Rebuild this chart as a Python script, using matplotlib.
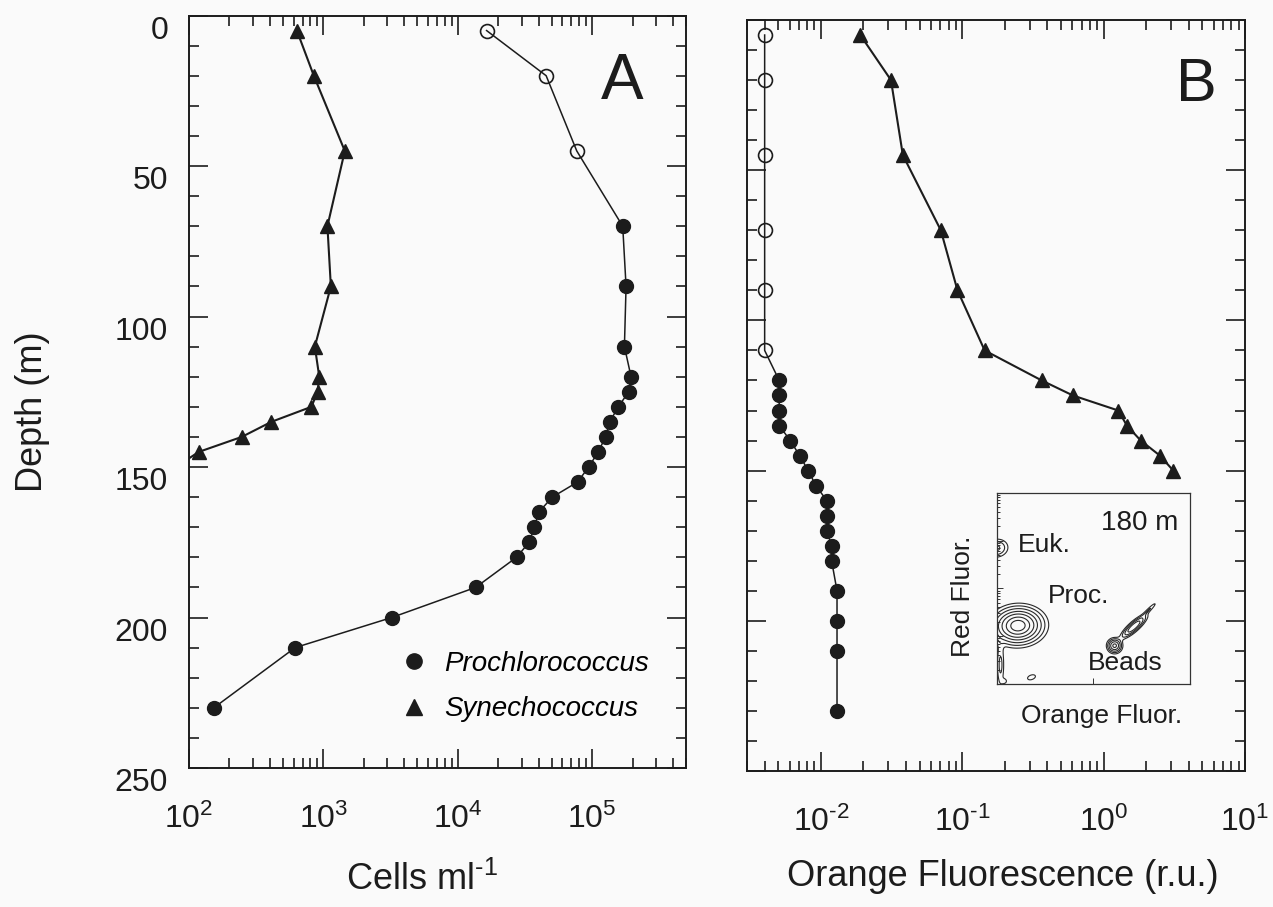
import numpy as np
import matplotlib
matplotlib.use("Agg")
import matplotlib.pyplot as plt
from matplotlib.lines import Line2D
from matplotlib.ticker import LogLocator, NullFormatter, MultipleLocator, FuncFormatter

plt.rcParams['font.family'] = ['Liberation Sans', 'DejaVu Sans']
plt.rcParams['mathtext.fontset'] = 'custom'
plt.rcParams['mathtext.rm'] = 'Liberation Sans'
plt.rcParams['mathtext.it'] = 'Liberation Sans:italic'
plt.rcParams['axes.unicode_minus'] = False

INK = '#1c1c1c'
BG = '#fafafa'

# ---- Panel A: cell abundance (cells per ml) ----
proc_a_open_depth = [5, 20, 45]
proc_a_open_cells = [16400, 45500, 76900]
proc_a_depth = [70, 90, 110, 120, 125, 130, 135, 140, 145, 150, 155, 160,
                165, 170, 175, 180, 190, 200, 210, 230]
proc_a_cells = [169000, 179000, 174000, 195000, 187000, 157000, 135000, 126000,
                111000, 94400, 77900, 50600, 40100, 37200, 34000, 27400,
                13600, 3230, 617, 153]
syn_a_depth = [5, 20, 45, 70, 90, 110, 120, 125, 130, 135, 140, 145, 150]
syn_a_cells = [635, 849, 1444, 1072, 1137, 864, 932, 906, 815, 410, 247, 118, 80]

# ---- Panel B: orange fluorescence (relative units) ----
proc_b_open_depth = [5, 20, 45, 70, 90, 110]
proc_b_open_fl = [0.0040, 0.0040, 0.0040, 0.0040, 0.0040, 0.0040]
proc_b_depth = [120, 125, 130, 135, 140, 145, 150, 155, 160, 165, 170, 175,
                180, 190, 200, 210, 230]
proc_b_fl = [0.00507, 0.00507, 0.00507, 0.00507, 0.00607, 0.00707, 0.00813,
             0.00922, 0.0110, 0.0110, 0.0110, 0.0119, 0.0119, 0.0130, 0.0130,
             0.0130, 0.0130]
syn_b_depth = [5, 20, 45, 70, 90, 110, 120, 125, 130, 135, 140, 145, 150]
syn_b_fl = [0.0190, 0.0313, 0.0380, 0.0705, 0.0925, 0.144, 0.365, 0.607,
            1.27, 1.46, 1.83, 2.50, 3.11]

# ---- inset cytogram (180 m): populations as fraction of the 4-decade axes ----
cyto_name = ['euk', 'proc', 'proc_tail', 'beads', 'doublets', 'doublets_tip', 'noise', 'corner']
cyto_u = [0.0, 0.11, 0.02, 0.61, 0.71, 0.79, 0.18, 0.04]
cyto_v = [0.71, 0.305, 0.10, 0.20, 0.30, 0.39, 0.035, 0.015]
cyto_su = [0.035, 0.065, 0.012, 0.02, 0.045, 0.035, 0.018, 0.01]
cyto_sv = [0.028, 0.048, 0.07, 0.02, 0.013, 0.006, 0.01, 0.01]
cyto_angle = [10, 3, 0, 0, 42, 45, 20, 0]
cyto_weight = [0.2, 1.0, 0.12, 0.5, 0.45, 0.1, 0.1, 0.08]
cyto_levels = [0.05, 0.1, 0.18, 0.3, 0.45, 0.65, 0.85]


def decade_label(v, pos):
    e = int(round(np.log10(v)))
    return r'$10^{%s}$' % str(e).replace('-', r'\text{-}')


def style_axes(ax):
    ax.set_facecolor(BG)
    for s in ax.spines.values():
        s.set_linewidth(1.4)
        s.set_color(INK)
    ax.tick_params(which='both', direction='in', top=True, right=True,
                   colors=INK, width=1.2)
    ax.tick_params(which='major', length=14)
    ax.tick_params(which='minor', length=7)
    ax.tick_params(axis='x', which='major', labelsize=23, pad=26)
    ax.tick_params(axis='y', which='major', labelsize=23, pad=15)
    ax.set_ylim(250, 0)
    ax.yaxis.set_major_locator(MultipleLocator(50))
    ax.yaxis.set_minor_locator(MultipleLocator(10))
    ax.set_xscale('log')
    ax.xaxis.set_major_locator(LogLocator(base=10))
    ax.xaxis.set_major_formatter(FuncFormatter(decade_label))
    ax.xaxis.set_minor_locator(LogLocator(base=10, subs=np.arange(2, 10)))
    ax.xaxis.set_minor_formatter(NullFormatter())


fig = plt.figure(figsize=(12.73, 9.07), dpi=100, facecolor=BG)
axA = fig.add_axes([0.14847, 0.15325, 0.39042, 0.82966])
axB = fig.add_axes([0.58680, 0.14995, 0.39120, 0.82800])

# Panel A
style_axes(axA)
axA.set_xlim(1e2, 5e5)
for lab in axA.get_yticklabels():
    lab.set_verticalalignment('top')
axA.plot(syn_a_cells, syn_a_depth, '-', color=INK, lw=1.5, marker='^', ms=10,
         zorder=3)
axA.plot(proc_a_open_cells + proc_a_cells, proc_a_open_depth + proc_a_depth,
         '-', color=INK, lw=1.1, zorder=2)
axA.plot(proc_a_open_cells, proc_a_open_depth, 'o', ms=10, mfc='none',
         mec=INK, mew=1.2, zorder=3)
axA.plot(proc_a_cells, proc_a_depth, 'o', ms=10, color=INK, zorder=3)
axA.text(0.871, 0.912, 'A', transform=axA.transAxes, fontsize=46,
         ha='center', va='center', color=INK)

handles = [Line2D([], [], marker='o', ls='none', color=INK, ms=11),
           Line2D([], [], marker='^', ls='none', color=INK, ms=11)]
fig.legend(handles, ['Prochlorococcus', 'Synechococcus'], loc='upper left',
           bbox_to_anchor=(400 / 1273, 1 - 651 / 907), frameon=False,
           borderpad=0, borderaxespad=0, handlelength=1.0, handletextpad=0.6,
           labelspacing=0.7, prop={'style': 'italic', 'size': 20})

# Panel B
style_axes(axB)
axB.set_xlim(0.003, 10)
axB.tick_params(axis='y', labelleft=False)
axB.plot(syn_b_fl, syn_b_depth, '-', color=INK, lw=1.5, marker='^', ms=10, zorder=3)
axB.plot(proc_b_open_fl + proc_b_fl, proc_b_open_depth + proc_b_depth,
         '-', color=INK, lw=1.1, zorder=2)
axB.plot(proc_b_open_fl, proc_b_open_depth, 'o', ms=10, mfc='none',
         mec=INK, mew=1.2, zorder=3)
axB.plot(proc_b_fl, proc_b_depth, 'o', ms=10, color=INK, zorder=3)
axB.text(0.903, 0.913, 'B', transform=axB.transAxes, fontsize=44,
         ha='center', va='center', color=INK)

# axis labels
fig.text(32 / 1273, 1 - 412 / 907, 'Depth (m)', rotation=90, ha='center',
         va='center', fontsize=26, color=INK)
fig.text(422 / 1273, 1 - 890 / 907, r'Cells ml$^{\text{-}1}$', ha='center',
         va='baseline', fontsize=26, color=INK)
fig.text(1003 / 1273, 1 - 886 / 907, 'Orange Fluorescence (r.u.)', ha='center',
         va='baseline', fontsize=26, color=INK)

# Inset cytogram
axI = fig.add_axes([0.78295, 0.24587, 0.15185, 0.21092])
axI.set_facecolor(BG)
for s in axI.spines.values():
    s.set_linewidth(0.9)
    s.set_color('#333333')
uu, vv = np.meshgrid(np.linspace(0, 1, 300), np.linspace(0, 1, 300))
dens = np.zeros_like(uu)
for u0, v0, su, sv, ang, w in zip(cyto_u, cyto_v, cyto_su, cyto_sv,
                                  cyto_angle, cyto_weight):
    a = np.deg2rad(ang)
    du, dv = uu - u0, vv - v0
    r1 = (du * np.cos(a) + dv * np.sin(a)) / su
    r2 = (-du * np.sin(a) + dv * np.cos(a)) / sv
    dens += w * np.exp(-0.5 * (r1 ** 2 + r2 ** 2))
axI.contour(10 ** (4 * uu), 10 ** (4 * vv), dens, levels=cyto_levels,
            colors='#2a2a2a', linewidths=0.8)
axI.set_xscale('log')
axI.set_yscale('log')
axI.set_xlim(1, 1e4)
axI.set_ylim(1, 1e4)
axI.xaxis.set_minor_locator(LogLocator(base=10, subs=np.arange(2, 10)))
axI.yaxis.set_minor_locator(LogLocator(base=10, subs=np.arange(2, 10)))
axI.tick_params(which='both', direction='in', labelbottom=False,
                labelleft=False, colors='#333333', width=0.7)
axI.tick_params(which='major', length=4)
axI.tick_params(which='minor', length=2)
axI.text(0.938, 0.805, '180 m', transform=axI.transAxes, ha='right',
         va='baseline', fontsize=20, color=INK)
axI.text(0.110, 0.692, 'Euk.', transform=axI.transAxes, ha='left',
         va='baseline', fontsize=19, color=INK)
axI.text(0.265, 0.423, 'Proc.', transform=axI.transAxes, ha='left',
         va='baseline', fontsize=19, color=INK)
axI.text(0.472, 0.073, 'Beads', transform=axI.transAxes, ha='left',
         va='baseline', fontsize=19, color=INK)
axI.text(-0.174, 0.46, 'Red Fluor.', transform=axI.transAxes, rotation=90,
         ha='center', va='center', fontsize=19, color=INK)
axI.text(0.54, -0.167, 'Orange Fluor.', transform=axI.transAxes,
         ha='center', va='center', fontsize=19, color=INK)

fig.savefig('out.png', dpi=100, facecolor=BG)
